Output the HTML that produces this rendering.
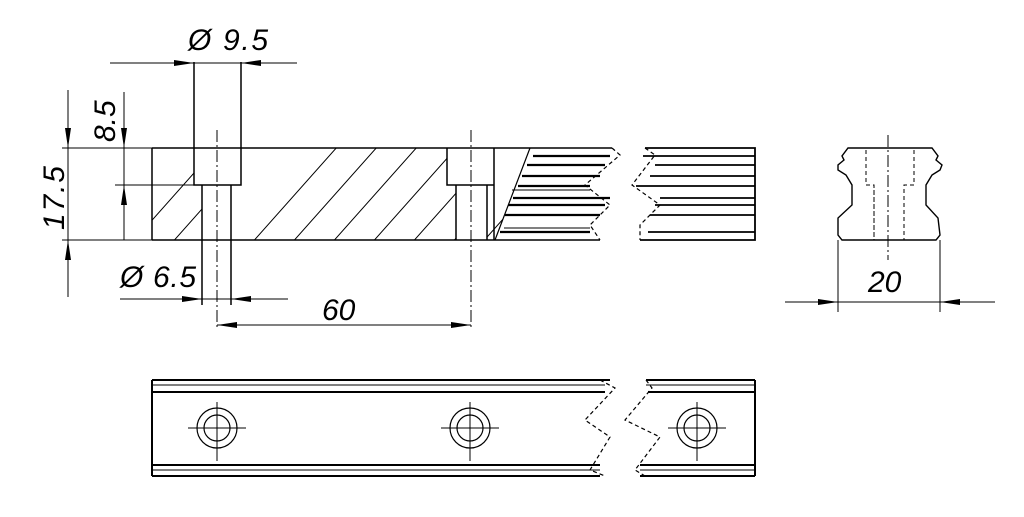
<!DOCTYPE html><html><head><style>html,body{margin:0;background:#fff}</style></head><body>
<svg width="1024" height="512" viewBox="0 0 1024 512" xmlns="http://www.w3.org/2000/svg">
<defs>
<marker id="a" viewBox="0 0 20 8" refX="20" refY="4" markerWidth="20" markerHeight="8" markerUnits="userSpaceOnUse" orient="auto"><path d="M0,1 L20,4 L0,7 Z" fill="#000"/></marker>
<clipPath id="h1"><path d="M152,148 H194 V185 H202 V240 H152 Z"/></clipPath>
<clipPath id="h2"><path d="M241,148 H447 V185 H456 V240 H231 V185 H241 Z"/></clipPath>
<clipPath id="h3"><path d="M494,148 H530 L495,240 H487 V185 H494 Z"/></clipPath>
</defs>
<g stroke="#000" fill="none" stroke-width="1.5">
<g stroke-width="1" clip-path="url(#h1)"><path d="M90,290 L250,110 M130,290 L290,110 M170,290 L330,110"/></g>
<g stroke-width="1" clip-path="url(#h2)"><path d="M210,290 L370,110 M250,290 L410,110 M290,290 L450,110 M330,290 L490,110 M370,290 L530,110 M410,290 L570,110 M450,290 L610,110"/></g>
<g stroke-width="1" clip-path="url(#h3)"><path d="M440,290 L600,110 M480,290 L640,110"/></g>
<path d="M152,148 H612 M152,240 H600 M152,148 V240 M194,62 V185 H241 V62 M202,185 V305 M231,185 V305 M447,148 V185 H494 V148 M456,185 V240 M487,185 V240 M494,148 V240"/>
<path d="M530,148 L495,240" stroke-width="1.2"/>
<path d="M533,156 H610 M527,165 H605 M522,176 H600 M518,186 H590 M513,198 H610 M508,205 H605 M505,215 H600 M500,232 H590" stroke-width="2.2"/>
<path d="M512,190 H590 M504,228 H590" stroke-width="1"/>
<path d="M612,148 L620,155 L585,185 L610,205 L590,225 L600,240" stroke-dasharray="4,3" stroke-width="1.2"/>
<path d="M645,148 H755 V240 H640 M643,156 H755 M655,165 H755 M650,176 H755 M636,186 H755 M660,198 H755 M655,205 H755 M650,215 H755 M648,232 H755" stroke-width="1.8"/>
<path d="M645,148 L655,155 L632,185 L660,205 L640,225 L640,240" stroke-dasharray="4,3" stroke-width="1.2"/>
<path d="M217,130 V330 M471,130 V330" stroke-width="1" stroke-dasharray="12,3,2,3"/>
<g stroke-width="1">
<path d="M62,148 H152 M115,185 H202 M62,240 H152"/>
<path d="M68,90 V297 M124,92 V240"/>
<path d="M110,63 H297 M120,299 H288 M217,325 H471"/>
</g>
<g stroke-width="1">
<path d="M68,92 V148" marker-end="url(#a)"/><path d="M68,296 V240" marker-end="url(#a)"/>
<path d="M124,92 V148" marker-end="url(#a)"/><path d="M124,215 V185" marker-end="url(#a)"/>
<path d="M150,63 H194" marker-end="url(#a)"/><path d="M290,63 H241" marker-end="url(#a)"/>
<path d="M160,299 H202" marker-end="url(#a)"/><path d="M280,299 H231" marker-end="url(#a)"/>
<path d="M260,325 H217" marker-end="url(#a)"/><path d="M420,325 H471" marker-end="url(#a)"/>
<path d="M785,302 H838" marker-end="url(#a)"/><path d="M995,302 H940" marker-end="url(#a)"/>
</g>
<path d="M848,148 H932 L938,156 L936,160 L942,165 L940,170 L932,175 L926,185 L926,205 L938,218 L940,235 L936,240 H842 L838,235 L838,218 L852,205 L852,185 L846,175 L838,170 L838,165 L844,160 L842,156 Z" stroke-width="1.4"/>
<path d="M838,240 V312 M940,240 V312 M785,302 H995" stroke-width="1"/>
<path d="M866,150 V185 H874 V240 M914,150 V185 H904 V240 M874,190 V240" stroke-width="1" stroke-dasharray="4,3"/>
<path d="M888,135 V260" stroke-width="1" stroke-dasharray="12,3,2,3"/>
<path d="M152,380 H610 M152,392 H605 M152,465 H600 M152,476 H600 M152,380 V476" stroke-width="2"/>
<path d="M152,385 H605 M152,470 H600" stroke-width="1"/>
<path d="M646,380 H755 M648,392 H755 M640,465 H755 M640,476 H755 M755,380 V476" stroke-width="2"/>
<path d="M646,385 H755 M640,470 H755" stroke-width="1"/>
<path d="M600,380 L615,388 L585,420 L610,437 L590,470 L605,476" stroke-dasharray="4,3" stroke-width="1.2"/>
<path d="M646,380 L652,388 L625,420 L660,437 L635,470 L645,476" stroke-dasharray="4,3" stroke-width="1.2"/>
<g stroke-width="1.2">
<circle cx="217" cy="428" r="20"/><circle cx="217" cy="428" r="13"/>
<circle cx="470" cy="428" r="20"/><circle cx="470" cy="428" r="13"/>
<circle cx="697" cy="428" r="20"/><circle cx="697" cy="428" r="13"/>
<path d="M188,428 H246 M217,402 V461 M441,428 H499 M470,402 V461 M668,428 H726 M697,402 V461" stroke-width="1"/>
</g>
</g>
<g font-family="Liberation Sans, sans-serif" font-size="30" font-style="italic" fill="#000">
<text x="188" y="50" textLength="80">Ø 9.5</text>
<text x="120" y="287" textLength="76">Ø 6.5</text>
<text x="322" y="320">60</text>
<text x="868" y="292">20</text>
<text transform="translate(64,230) rotate(-90)" textLength="64">17.5</text>
<text transform="translate(115,142) rotate(-90)">8.5</text>
</g>
</svg>
</body></html>
